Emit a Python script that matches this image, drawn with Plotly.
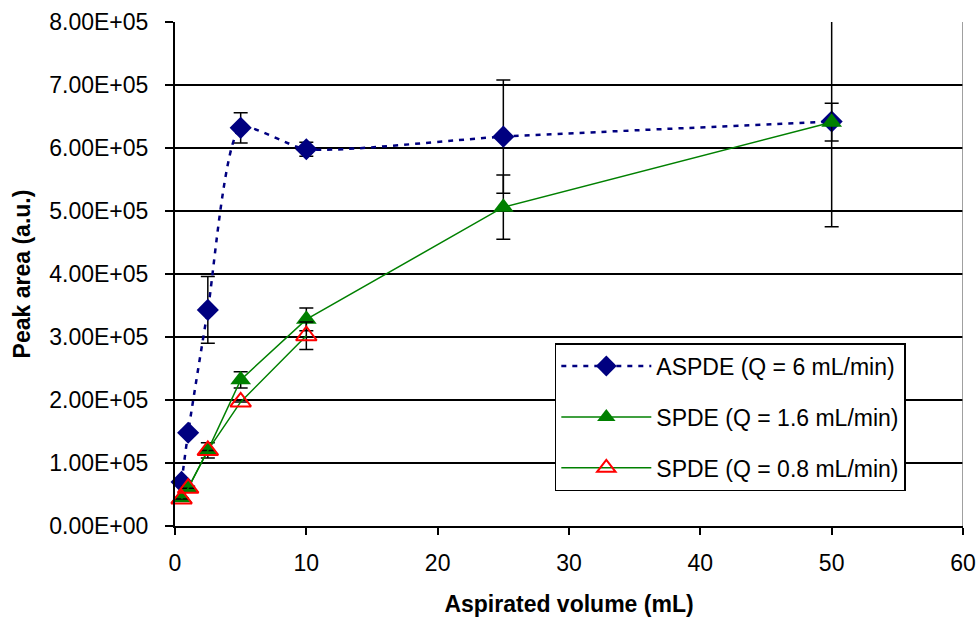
import plotly.graph_objects as go

# ---- data ----
x_aspde = [0.5, 1, 2.5, 5, 10, 25, 50]
y_aspde = [70000, 148000, 343000, 632000, 598000, 618000, 642000]
e_aspde = [0, 0, 53000, 24000, 11000, 90000, 167000]

x_spde16 = [0.5, 1, 2.5, 5, 10, 25, 50]
y_spde16 = [45000, 60000, 120000, 232000, 328000, 506000, 641000]
e_spde16 = [0, 3000, 12000, 13000, 18000, 51000, 30000]

x_spde08 = [0.5, 1, 2.5, 5, 10]
y_spde08 = [43000, 60000, 120000, 197000, 302000]
e_spde08 = [0, 0, 0, 0, 22000]

y_tickvals = [0, 100000, 200000, 300000, 400000, 500000, 600000, 700000, 800000]
y_ticktext = ["0.00E+00", "1.00E+05", "2.00E+05", "3.00E+05", "4.00E+05",
              "5.00E+05", "6.00E+05", "7.00E+05", "8.00E+05"]
x_tickvals = [0, 10, 20, 30, 40, 50, 60]

FONT = "Liberation Sans, Arial, sans-serif"
FS = 23

fig = go.Figure()

err_style = dict(type="data", visible=True, color="black", thickness=1.5, width=7)

fig.add_trace(go.Scatter(
    x=x_aspde, y=y_aspde, name="ASPDE (Q = 6 mL/min)", mode="lines+markers",
    line=dict(color="#000080", width=2.5, dash="5px,6px", shape="spline", smoothing=0.6),
    marker=dict(symbol="diamond", size=17, color="#000080"),
    error_y=dict(array=e_aspde, **err_style), legendgroup="a", cliponaxis=False))

fig.add_trace(go.Scatter(
    x=x_spde16, y=y_spde16, name="SPDE (Q = 1.6 mL/min)", mode="lines+markers",
    line=dict(color="#008000", width=1.5),
    marker=dict(symbol="triangle-up", size=18, color="#008000"),
    error_y=dict(array=e_spde16, **err_style), legendgroup="b", cliponaxis=False))

fig.add_trace(go.Scatter(
    x=x_spde08, y=y_spde08, name="SPDE (Q = 0.8 mL/min)", mode="lines+markers",
    line=dict(color="#008000", width=1.5),
    marker=dict(symbol="triangle-up-open", size=18, color="#ff0000",
                line=dict(color="#ff0000", width=2)),
    error_y=dict(array=e_spde08, **err_style), legendgroup="c", cliponaxis=False))

fig.add_shape(type="line", xref="x", yref="paper", x0=60, x1=60, y0=0, y1=1,
              line=dict(color="#808080", width=1.5))

fig.update_layout(
    width=977, height=617,
    margin=dict(l=175, r=14, t=22, b=91, autoexpand=False),
    paper_bgcolor="white", plot_bgcolor="white",
    font=dict(family=FONT, size=FS, color="black"),
    showlegend=True,
    legend=dict(x=0.482, y=0.363, xanchor="left", yanchor="top",
                bordercolor="black", borderwidth=1.5, bgcolor="white",
                font=dict(family=FONT, size=FS), tracegroupgap=18,
                itemwidth=90),
    xaxis=dict(range=[0, 60], tickvals=x_tickvals, showgrid=False,
               showline=True, linecolor="black", linewidth=2,
               ticks="outside", ticklen=7, tickcolor="black", tickwidth=1.5,
               zeroline=False, tickfont=dict(size=FS), automargin=False,
               ticklabelstandoff=8,
               title=dict(text="<b>Aspirated volume (mL)</b>", standoff=22,
                          font=dict(size=FS))),
    yaxis=dict(range=[0, 800000], tickvals=y_tickvals, ticktext=y_ticktext,
               showgrid=True, gridcolor="black", gridwidth=1.5,
               showline=True, linecolor="black", linewidth=2,
               ticks="outside", ticklen=8, tickcolor="black", tickwidth=1.5,
               zeroline=False, tickfont=dict(size=FS), ticklabelstandoff=12,
               automargin=False,
               title=dict(text="<b>Peak area (a.u.)</b>", standoff=12,
                          font=dict(size=FS))),
)

fig.write_html("out.html")
